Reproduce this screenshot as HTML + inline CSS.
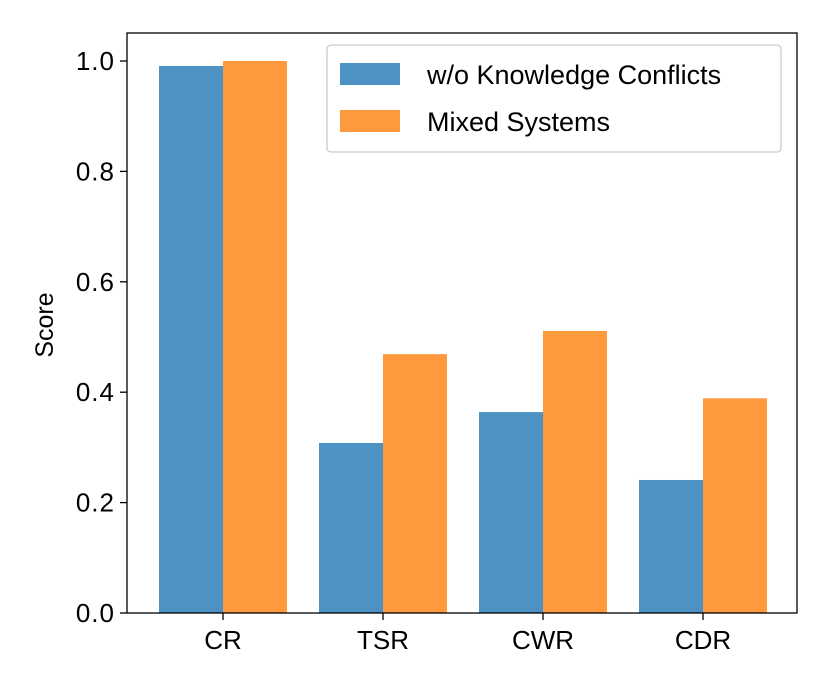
<!DOCTYPE html>
<html><head><meta charset="utf-8"><style>
body{margin:0;background:#fff}
svg text{font-family:"Liberation Sans",sans-serif;fill:#000}
</style></head><body>
<svg id="chart" width="830" height="692" xmlns="http://www.w3.org/2000/svg">
<g id="bars"></g>
<g id="axes"></g>
</svg>
<script>
const categories=["CR","TSR","CWR","CDR"];
const seriesNames=["w/o Knowledge Conflicts","Mixed Systems"];
const noConflict=[0.991,0.308,0.364,0.241];
const mixed=[1.0,0.469,0.511,0.389];
const yTicks=[0.0,0.2,0.4,0.6,0.8,1.0];
const yTickLabels=["0.0","0.2","0.4","0.6","0.8","1.0"];

const NS="http://www.w3.org/2000/svg";
const L=127,R=797,T=33,B=613;
const y=v=>B-v*552;
const x=i=>223+i*160;
const bw=64;
const colors=["#4c92c3","#ff993e"];
function mk(tag,attrs,parent){const e=document.createElementNS(NS,tag);for(const k in attrs)e.setAttribute(k,attrs[k]);parent.appendChild(e);return e;}
const bars=document.getElementById('bars'),axes=document.getElementById('axes');
[noConflict,mixed].forEach((s,si)=>{
  s.forEach((v,i)=>{
    const r=mk('rect',{x:x(i)-bw+si*bw,y:y(v),width:bw,height:B-y(v),fill:colors[si]},bars);
    
    
  });
});
const frame=mk('rect',{x:L,y:T,width:R-L,height:B-T,fill:'none',stroke:'#000','stroke-width':1.3},axes);


yTicks.forEach((v,i)=>{
  mk('line',{x1:L-7,x2:L,y1:y(v),y2:y(v),stroke:'#000','stroke-width':1.3},axes);
  const t=mk('text',{x:L-12,y:y(v)+9,'text-anchor':'end','font-size':26,'letter-spacing':1},axes);
  t.textContent=yTickLabels[i];
  
  
});
categories.forEach((c,i)=>{
  mk('line',{x1:x(i),x2:x(i),y1:B,y2:B+7,stroke:'#000','stroke-width':1.3},axes);
  const t=mk('text',{x:x(i),y:B+36,'text-anchor':'middle','font-size':26},axes);
  t.textContent=c;
  
  
});
const yl=mk('text',{x:0,y:0,transform:'translate(53,325) rotate(-90)','text-anchor':'middle','font-size':25},axes);
yl.textContent='Score';


const lg=mk('g',{},axes);


mk('rect',{x:327,y:45,width:454,height:107,rx:4,fill:'#fff','fill-opacity':0.8,stroke:'#ccc','stroke-width':1.3},lg);
seriesNames.forEach((n,i)=>{
  mk('rect',{x:340,y:63+i*47,width:60,height:22,fill:colors[i]},lg);
  const t=mk('text',{x:427,y:84+i*47,'font-size':27},lg);
  t.textContent=n;
  
  
});
</script>
</body></html>
